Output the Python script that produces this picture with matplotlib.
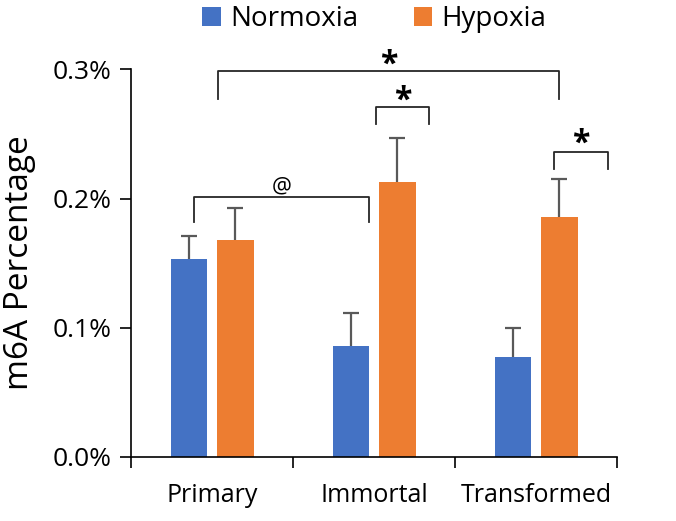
import matplotlib.pyplot as plt
import numpy as np

groups = ["Primary", "Immortal", "Transformed"]
normoxia = [0.153, 0.086, 0.077]
normoxia_err = [0.018, 0.025, 0.023]
hypoxia = [0.168, 0.213, 0.186]
hypoxia_err = [0.025, 0.034, 0.029]
y_ticks = [0.0, 0.1, 0.2, 0.3]

blue = "#4472C4"
orange = "#ED7D31"
err_col = "#595959"

plt.rcParams['font.family'] = ['Open Sans', 'DejaVu Sans']

fig = plt.figure(figsize=(6.76, 5.21), dpi=100)
ax = fig.add_axes([0.194, 0.123, 0.719, 0.744])

x = np.arange(len(groups))
w = 0.226
off = 0.143
ax.bar(x - off, normoxia, w, color=blue, label="Normoxia")
ax.bar(x + off, hypoxia, w, color=orange, label="Hypoxia")

# upper error bars only
for xs, vals, errs in [(x - off, normoxia, normoxia_err), (x + off, hypoxia, hypoxia_err)]:
    eb = ax.errorbar(xs, vals, yerr=[np.zeros(3), errs], fmt='none',
                     ecolor=err_col, elinewidth=1.6, capsize=6, capthick=1.6)
    eb[1][0].set_visible(False)

ax.set_xlim(-0.5, 2.5)
ax.set_ylim(0, 0.3)
ax.set_yticks(y_ticks)
ax.set_yticklabels([f"{v:.1f}%" for v in y_ticks], fontsize=19)
ax.set_xticks(x)
ax.set_xticklabels(groups, fontsize=18)
ax.tick_params(axis='x', length=0, pad=19)
ax.set_xticks([-0.5, 0.5, 1.5, 2.5], minor=True)
ax.tick_params(axis='x', which='minor', length=8, width=1.2)
ax.tick_params(axis='y', length=8, width=1.2, pad=6)
ax.spines['top'].set_visible(False)
ax.spines['right'].set_visible(False)
ax.spines['left'].set_linewidth(1.2)
ax.spines['bottom'].set_linewidth(1.2)
ax.set_ylabel("m6A Percentage", fontsize=24)
ax.yaxis.set_label_coords(-0.196, 0.5)


def bracket(x1, x2, ytop, ybot, label, size, bold=True, dy=0.0):
    ax.plot([x1, x1, x2, x2], [ybot, ytop, ytop, ybot], color="#262626",
            lw=1.3, clip_on=False, solid_joinstyle='round')
    ax.text((x1 + x2) / 2, ytop + dy, label, ha='center', va='bottom',
            fontsize=size, fontweight='bold' if bold else 'normal',
            clip_on=False)


bracket(-0.114, 0.969, 0.2014, 0.1818, "@", 16, bold=False, dy=-0.001)
bracket(0.034, 2.142, 0.2987, 0.277, "*", 23, dy=-0.008)
bracket(1.01, 1.338, 0.2706, 0.2577, "*", 23, dy=-0.008)
bracket(2.109, 2.443, 0.2363, 0.2229, "*", 23, dy=-0.007)

fig.legend(loc='center', bbox_to_anchor=(0.554, 0.9635), ncol=2,
           frameon=False, fontsize=20, handlelength=0.65, handleheight=0.65,
           columnspacing=2.0, handletextpad=0.35)

fig.savefig("out.png", dpi=100)
